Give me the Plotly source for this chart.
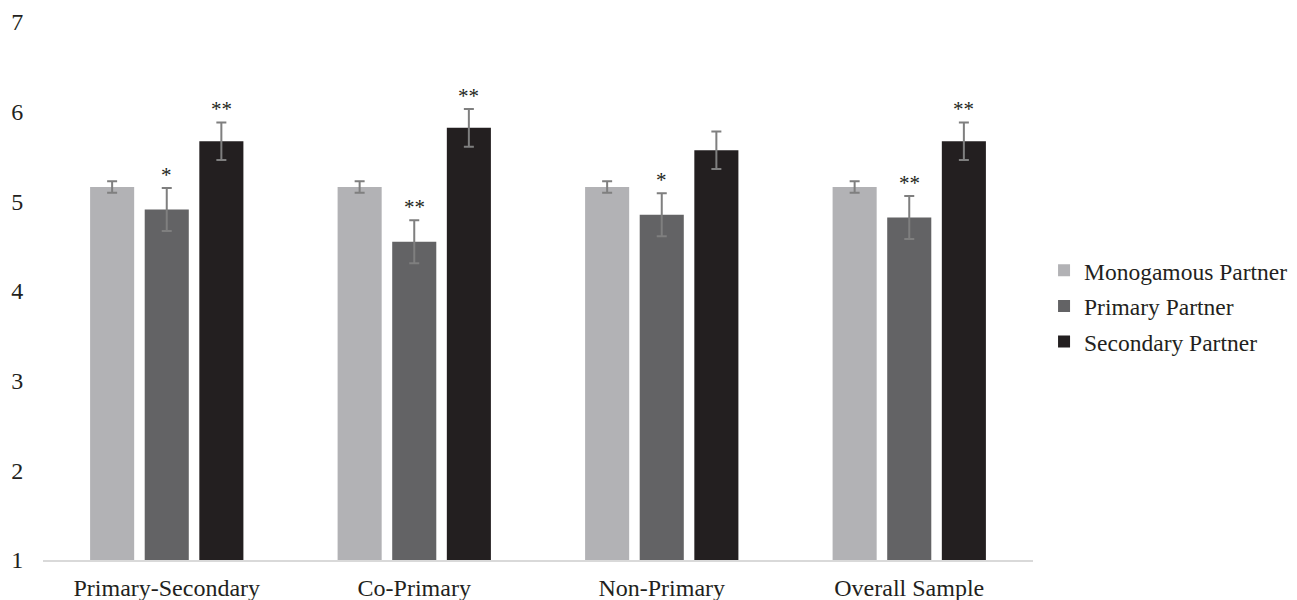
import plotly.graph_objects as go

categories = ["Primary-Secondary", "Co-Primary", "Non-Primary", "Overall Sample"]
series_names = ["Monogamous Partner", "Primary Partner", "Secondary Partner"]
monogamous = [5.16, 5.16, 5.16, 5.16]
monogamous_err = [0.065, 0.065, 0.065, 0.065]
primary = [4.91, 4.55, 4.85, 4.82]
primary_err = [0.24, 0.24, 0.24, 0.24]
secondary = [5.67, 5.82, 5.57, 5.67]
secondary_err = [0.21, 0.21, 0.21, 0.21]
primary_stars = ["*", "**", "*", "**"]
secondary_stars = ["**", "**", "", "**"]
y_ticks = [1, 2, 3, 4, 5, 6, 7]

colors = ["#b2b2b5", "#636365", "#231f20"]
FONT = "Liberation Serif"

fig = go.Figure()
for name, vals, errs, col in zip(series_names,
                                 [monogamous, primary, secondary],
                                 [monogamous_err, primary_err, secondary_err],
                                 colors):
    fig.add_trace(go.Bar(
        name=name, x=categories, y=[v - 1 for v in vals], base=1,
        legendgroup=name,
        marker=dict(color=col, line=dict(width=0)),
        error_y=dict(type="data", array=errs, color="#7f7f7f", thickness=2, width=5),
        hoverinfo="skip",
    ))

n_series = 3
bargap = 0.338
slot = (1 - bargap) / n_series
for i, cat in enumerate(categories):
    for s_idx, (stars, vals, errs) in enumerate([(primary_stars, primary, primary_err),
                                                  (secondary_stars, secondary, secondary_err)], start=1):
        if stars[i]:
            offset = (s_idx - 1) * slot
            fig.add_annotation(
                x=i + offset, y=vals[i] + errs[i], xref="x", yref="y",
                text=stars[i], showarrow=False, yanchor="bottom", yshift=-1,
                font=dict(family=FONT, size=21, color="#231f20"),
            )

fig.update_layout(
    width=1297, height=600,
    margin=dict(l=35, r=272, t=14, b=48, autoexpand=False),
    barmode="group", bargap=bargap, bargroupgap=0.193,
    plot_bgcolor="white", paper_bgcolor="white",
    font=dict(family=FONT, size=24, color="#231f20"),
    showlegend=True,
    legend=dict(x=0.7988, xref="container", y=0.472, xanchor="left", yanchor="middle",
                tracegroupgap=2, borderwidth=0,
                font=dict(family=FONT, size=23.5, color="#231f20"),
                bgcolor="rgba(0,0,0,0)", itemclick=False, itemdoubleclick=False),
    xaxis=dict(showline=True, linecolor="#d9d9d9", linewidth=2,
               ticks="outside", ticklen=5, tickcolor="rgba(0,0,0,0)",
               showgrid=False, zeroline=False, type="category", automargin=False,
               tickfont=dict(family=FONT, size=24)),
    yaxis=dict(range=[1, 7], tickvals=y_ticks, showgrid=False, zeroline=False,
               showline=False, ticks="outside", ticklen=14, tickcolor="rgba(0,0,0,0)",
               automargin=False, tickfont=dict(family=FONT, size=24)),
)

fig.write_html("out.html")
